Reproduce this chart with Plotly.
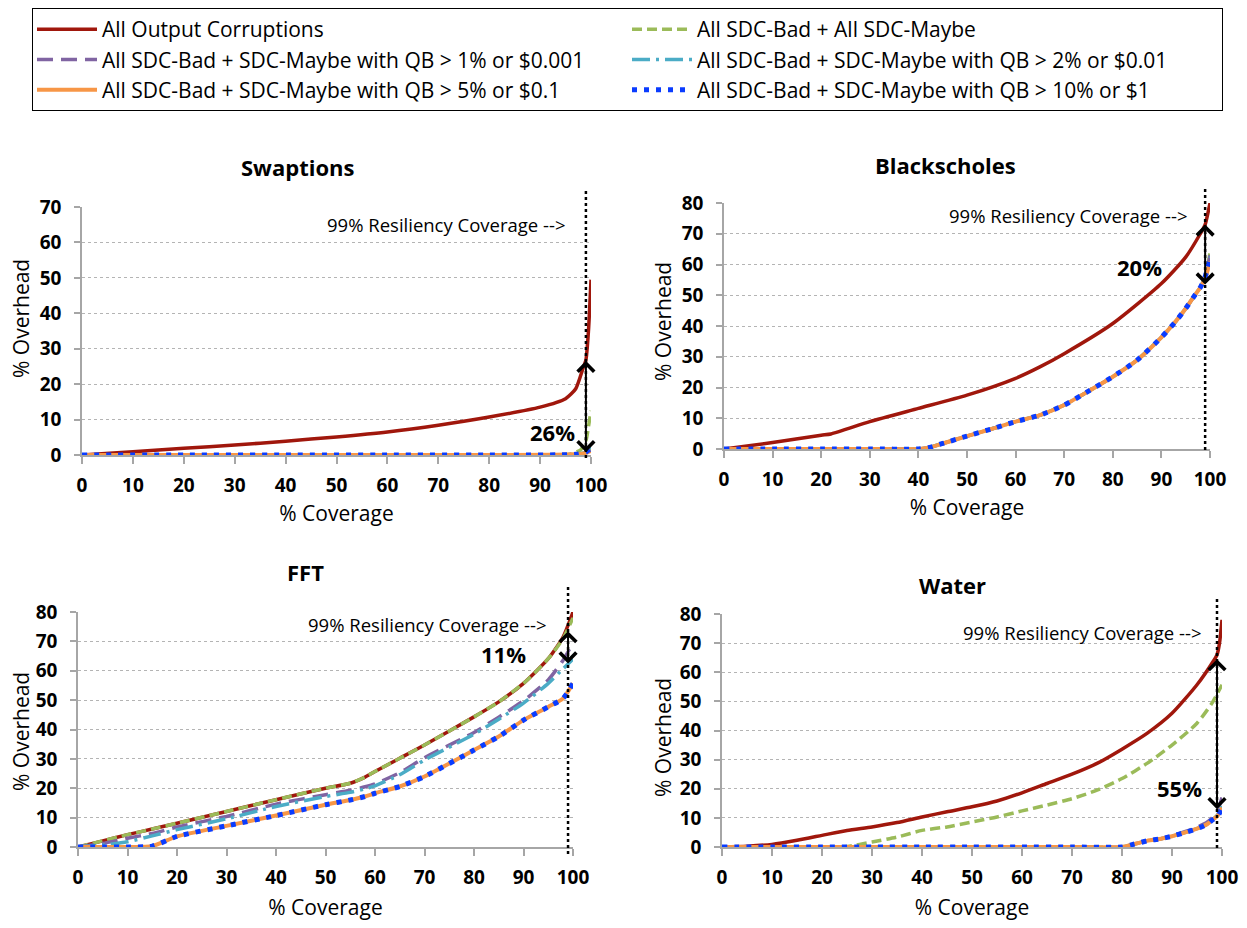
import plotly.graph_objects as go

# ---------------- data ----------------
SERIES_NAMES = [
    "All Output Corruptions",
    "All SDC-Bad + All SDC-Maybe",
    "All SDC-Bad + SDC-Maybe with QB > 1% or $0.001",
    "All SDC-Bad + SDC-Maybe with QB > 2% or $0.01",
    "All SDC-Bad + SDC-Maybe with QB > 5% or $0.1",
    "All SDC-Bad + SDC-Maybe with QB > 10% or $1",
]
CHART_TITLES = ["Swaptions", "Blackscholes", "FFT", "Water"]
X_TITLE = "% Coverage"
Y_TITLE = "% Overhead"
X_TICKS = [0, 10, 20, 30, 40, 50, 60, 70, 80, 90, 100]
COVERAGE_TARGET = 99
GAP_LABELS = ["26%", "20%", "11%", "55%"]
# arrow ends (upper, lower) at 99% coverage
GAP_TOP = [27, 73.5, 74, 65]
GAP_BOTTOM = [0.8, 53.5, 62.5, 13]
Y_MAX = [70, 80, 80, 80]

# Swaptions
SW_X_RED = [0, 10, 20, 30, 40, 50, 60, 70, 80, 90, 95, 97, 98.5, 99, 99.5, 100]
SW_Y_RED = [0, 0.9, 1.9, 2.8, 3.9, 5.1, 6.5, 8.4, 10.7, 13.5, 15.9, 18.7, 24.8, 26.8, 35, 49.5]
SW_X_GREEN = [0, 20, 40, 60, 80, 96, 98, 99, 99.5, 100]
SW_Y_GREEN = [0, 0, 0, 0, 0, 0.3, 1.5, 4, 8, 12.5]
SW_X_LOW = [0, 20, 40, 60, 80, 97, 99, 100]
SW_Y_QB1 = [0, 0, 0, 0, 0, 0.2, 0.8, 2.5]
SW_Y_QB2 = [0, 0, 0, 0, 0, 0.2, 0.8, 2.2]
SW_Y_QB5 = [0, 0, 0, 0, 0, 0.2, 0.6, 1.2]
SW_Y_QB10 = [0, 0, 0, 0, 0, 0.2, 0.8, 2.0]

# Blackscholes
BS_X_RED = [0, 10, 20, 22, 30, 40, 50, 60, 65, 70, 80, 90, 95, 98, 99, 100]
BS_Y_RED = [0, 2.1, 4.5, 4.9, 8.9, 13.2, 17.5, 23, 26.7, 31, 40.8, 53.8, 62.4, 70, 73, 80]
BS_X_LOW = [0, 10, 20, 30, 40, 42, 45, 50, 55, 60, 65, 70, 75, 80, 85, 90, 93, 95, 97, 98, 99, 99.5, 100]
BS_Y_GREEN = [0, 0, 0, 0, 0, 0.4, 1.8, 4.2, 6.5, 8.9, 11, 14.3, 18.8, 23.5, 28.9, 36.3, 41.6, 45.7, 50.3, 52.5, 56, 59, 64]
BS_Y_QB1 = [0, 0, 0, 0, 0, 0.4, 1.8, 4.2, 6.5, 8.9, 11, 14.3, 18.8, 23.5, 28.9, 36.3, 41.6, 45.7, 50.3, 52.5, 56, 58.7, 63]
BS_Y_QB2 = [0, 0, 0, 0, 0, 0.4, 1.8, 4.2, 6.5, 8.9, 11, 14.3, 18.8, 23.5, 28.9, 36.3, 41.6, 45.7, 50.3, 52.5, 56, 58.7, 62.5]
BS_Y_QB5 = [0, 0, 0, 0, 0, 0.4, 1.8, 4.2, 6.5, 8.9, 11, 14.3, 18.8, 23.5, 28.9, 36.3, 41.6, 45.7, 50.3, 52.5, 55.5, 58, 61]
BS_Y_QB10 = [0, 0, 0, 0, 0, 0.4, 1.8, 4.2, 6.5, 8.9, 11, 14.3, 18.8, 23.5, 28.9, 36.3, 41.6, 45.7, 50.3, 52.5, 56, 58.7, 62]

# FFT
FF_X = [0, 5, 10, 15, 20, 30, 40, 50, 55, 58, 60, 65, 70, 80, 85, 90, 95, 98, 100]
FF_Y_RED = [0, 2.1, 4.2, 6.1, 8.1, 12.1, 16.1, 20, 21.7, 23.8, 25.7, 30.2, 34.7, 44.3, 49.4, 55.7, 64.1, 71.5, 80]
FF_Y_GREEN = [0, 2.1, 4.2, 6.1, 8.1, 12.1, 16.1, 20, 21.7, 23.8, 25.7, 30.2, 34.7, 44.3, 49.4, 55.7, 64.1, 71, 78]
FF_Y_QB1 = [0, 1.2, 3.0, 4.6, 6.8, 10.4, 14.6, 17.8, 19.3, 20.5, 21.5, 25.3, 30.4, 39.0, 44.2, 49.8, 56.9, 63.6, 69.5]
FF_Y_QB2 = [0, 0.6, 1.8, 3.8, 5.9, 9.6, 13.8, 17.2, 18.6, 19.8, 20.8, 24.6, 29.6, 38.4, 43.5, 49.0, 55.7, 60.7, 64.0]
FF_Y_QB5 = [0, 0, 0, 0.3, 3.6, 7.2, 10.7, 14.4, 16, 17.2, 18.3, 20.6, 24, 33, 37.6, 43.2, 47.7, 50.6, 55.7]
FF_Y_QB10 = [0, 0, 0, 0.3, 3.6, 7.2, 10.7, 14.4, 16, 17.2, 18.3, 20.6, 24, 33, 37.6, 43.2, 47.7, 50.6, 55.7]

# Water
WA_X_RED = [0, 5, 10, 15, 20, 25, 30, 35, 40, 45, 50, 55, 60, 65, 70, 75, 80, 85, 90, 95, 98, 99, 99.5, 100]
WA_Y_RED = [0, 0.3, 0.9, 2.3, 4.0, 5.7, 6.9, 8.4, 10.3, 12.1, 13.8, 15.8, 18.6, 21.8, 25, 28.7, 33.6, 39, 45.9, 55.7, 63.1, 66, 70, 78]
WA_X_GREEN = [0, 10, 20, 25, 30, 35, 40, 45, 50, 55, 60, 65, 70, 75, 80, 85, 90, 95, 98, 100]
WA_Y_GREEN = [0, 0, 0, 0.2, 1.7, 3.4, 5.7, 6.9, 8.6, 10.3, 12.4, 14.4, 16.6, 19.5, 23.5, 28.7, 35, 42.5, 49.4, 55.7]
WA_X_LOW = [0, 10, 20, 30, 40, 50, 60, 70, 80, 82, 85, 88, 90, 93, 95, 97, 98, 99, 100]
WA_Y_QB1 = [0, 0, 0, 0, 0, 0, 0, 0, 0, 0.8, 2.1, 2.9, 3.9, 5.5, 6.8, 8.5, 10, 12, 17]
WA_Y_QB2 = [0, 0, 0, 0, 0, 0, 0, 0, 0, 0.8, 2.1, 2.9, 3.7, 5.2, 6.3, 7.8, 9.2, 10.8, 14]
WA_Y_QB5 = [0, 0, 0, 0, 0, 0, 0, 0, 0, 0.8, 2.1, 2.9, 3.7, 5.2, 6.3, 7.8, 9.2, 10.5, 13.5]
WA_Y_QB10 = [0, 0, 0, 0, 0, 0, 0, 0, 0, 0.8, 2.1, 2.9, 3.7, 5.2, 6.3, 7.8, 9.2, 10.3, 13.2]

CHART_DATA = [
    [(SW_X_RED, SW_Y_RED), (SW_X_GREEN, SW_Y_GREEN), (SW_X_LOW, SW_Y_QB1),
     (SW_X_LOW, SW_Y_QB2), (SW_X_LOW, SW_Y_QB5), (SW_X_LOW, SW_Y_QB10)],
    [(BS_X_RED, BS_Y_RED), (BS_X_LOW, BS_Y_GREEN), (BS_X_LOW, BS_Y_QB1),
     (BS_X_LOW, BS_Y_QB2), (BS_X_LOW, BS_Y_QB5), (BS_X_LOW, BS_Y_QB10)],
    [(FF_X, FF_Y_RED), (FF_X, FF_Y_GREEN), (FF_X, FF_Y_QB1),
     (FF_X, FF_Y_QB2), (FF_X, FF_Y_QB5), (FF_X, FF_Y_QB10)],
    [(WA_X_RED, WA_Y_RED), (WA_X_GREEN, WA_Y_GREEN), (WA_X_LOW, WA_Y_QB1),
     (WA_X_LOW, WA_Y_QB2), (WA_X_LOW, WA_Y_QB5), (WA_X_LOW, WA_Y_QB10)],
]

# ---------------- styles ----------------
FONT = "Open Sans"
LINE_STYLES = [
    dict(color="#A0170C", width=3.5, dash="solid"),
    dict(color="#9BBB59", width=3.5, dash="10px,5px"),
    dict(color="#8064A2", width=3.5, dash="16px,8px"),
    dict(color="#4BACC6", width=3.5, dash="18px,6px,3px,6px"),
    dict(color="#F79646", width=4, dash="solid"),
    dict(color="#0A3CFF", width=5, dash="5px,7px"),
]
GRID = "#B4B4B4"
AXIS = "#A6A6A6"

# The page body has an 8px margin; the figure fills the rest of the window.
OFF = 8
W, H = 1247 - OFF, 928 - OFF


def px(xp):
    return (xp - OFF) / W


def py(yp):
    return 1 - (yp - OFF) / H


# pixel geometry (in window pixels) of each subplot: x0, x1, ytop, ybottom
BOXES = [
    (82, 591, 207, 455),
    (724, 1210, 203, 449),
    (78, 573, 612, 847),
    (722, 1222, 614, 847),
]
TITLE_POS = [(298, 167), (945, 165), (305, 572), (952, 585)]
YTITLE_POS = [(21, 319), (663, 322), (21, 732), (663, 738)]
RESIL_POS = [(95.5, 65), (95.8, 75.8), (95.2, 75.9), (96.4, 73.8)]
GAP_POS = [(92.4, 6.4), (85.4, 59.2), (86.0, 65.7), (91.4, 20.3)]
LINE_EXT = [(-0.012, 1.07), (-0.004, 1.06), (-0.03, 1.11), (-0.004, 1.075)]
XTITLE_STANDOFF = [10, 10, 12, 12]

fig = go.Figure()

for ci, series in enumerate(CHART_DATA):
    xa = "x" if ci == 0 else f"x{ci+1}"
    ya = "y" if ci == 0 else f"y{ci+1}"
    for si, (xs, ys) in enumerate(series):
        fig.add_trace(go.Scatter(
            x=xs, y=ys, mode="lines", name=SERIES_NAMES[si],
            legendgroup=SERIES_NAMES[si], showlegend=(ci == 0),
            line=dict(shape="spline", smoothing=0.6, **LINE_STYLES[si]),
            xaxis=xa, yaxis=ya, hoverinfo="x+y",
        ))

layout = dict(
    template="none",
    width=W, height=H,
    margin=dict(l=0, r=0, t=0, b=0, pad=0),
    paper_bgcolor="white", plot_bgcolor="white",
    font=dict(family=FONT, color="black"),
    legend=dict(
        orientation="h", x=px(32), y=1, xanchor="left", yanchor="top",
        bordercolor="black", borderwidth=1, bgcolor="white",
        entrywidth=520, entrywidthmode="pixels", itemwidth=60,
        font=dict(family=FONT, size=21, color="black"), tracegroupgap=0,
    ),
    annotations=[], shapes=[],
)

for ci in range(4):
    x0, x1, yt, yb = BOXES[ci]
    sfx = "" if ci == 0 else str(ci + 1)
    xname, yname = "xaxis" + sfx, "yaxis" + sfx
    xref, yref = "x" + sfx, "y" + sfx
    layout[xname] = dict(
        domain=[px(x0), px(x1)], anchor=yref, range=[0, 100], automargin=False,
        tickvals=X_TICKS, ticks="outside", ticklen=7, tickcolor=AXIS, tickwidth=1.5,
        showline=True, linecolor=AXIS, linewidth=1.5, showgrid=False, zeroline=False,
        tickfont=dict(family=FONT, size=19, color="black", weight="bold"),
        ticklabelstandoff=5,
        title=dict(text=X_TITLE, font=dict(family=FONT, size=21, color="black"),
                   standoff=XTITLE_STANDOFF[ci]),
        fixedrange=True,
    )
    layout[yname] = dict(
        domain=[py(yb), py(yt)], anchor=xref, range=[0, Y_MAX[ci]], dtick=10,
        automargin=False,
        ticks="outside", ticklen=6, tickcolor=AXIS, tickwidth=1.5,
        showline=True, linecolor=AXIS, linewidth=1.5,
        showgrid=True, gridcolor=GRID, griddash="dot", gridwidth=1, zeroline=False,
        tickfont=dict(family=FONT, size=19, color="black", weight="bold"),
        ticklabelstandoff=9,
        fixedrange=True,
    )
    # y axis title (placed as in the reference)
    yx, yy = YTITLE_POS[ci]
    layout["annotations"].append(dict(
        text=Y_TITLE, xref="paper", yref="paper", x=px(yx), y=py(yy),
        xanchor="center", yanchor="middle", textangle=-90, showarrow=False,
        font=dict(family=FONT, size=21, color="black"),
    ))
    # chart title
    tx, ty = TITLE_POS[ci]
    layout["annotations"].append(dict(
        text=f"<b>{CHART_TITLES[ci]}</b>", xref="paper", yref="paper",
        x=px(tx), y=py(ty), xanchor="center", yanchor="middle", showarrow=False,
        font=dict(family=FONT, size=22, color="black"),
    ))
    # 99% resiliency text
    rx, ry = RESIL_POS[ci]
    layout["annotations"].append(dict(
        text="99% Resiliency Coverage -->", xref=xref, yref=yref, x=rx, y=ry,
        xanchor="right", yanchor="middle", showarrow=False,
        font=dict(family=FONT, size=18.5, color="black"),
    ))
    # gap label
    gx, gy = GAP_POS[ci]
    layout["annotations"].append(dict(
        text=f"<b>{GAP_LABELS[ci]}</b>", xref=xref, yref=yref, x=gx, y=gy,
        xanchor="center", yanchor="middle", showarrow=False,
        font=dict(family=FONT, size=22, color="black"),
    ))
    # double headed arrow
    layout["annotations"].append(dict(
        text="", xref=xref, yref=yref, axref=xref, ayref=yref,
        x=COVERAGE_TARGET, y=GAP_BOTTOM[ci], ax=COVERAGE_TARGET, ay=GAP_TOP[ci],
        showarrow=True, arrowside="end+start", arrowhead=4, startarrowhead=4,
        arrowsize=1.6, startarrowsize=1.6, arrowwidth=2, arrowcolor="black",
        standoff=0, startstandoff=0,
    ))
    # dotted 99% line
    e0, e1 = LINE_EXT[ci]
    layout["shapes"].append(dict(
        type="line", xref=xref + " domain", yref=yref + " domain",
        x0=COVERAGE_TARGET / 100, x1=COVERAGE_TARGET / 100, y0=e0, y1=e1,
        line=dict(color="black", width=2.5, dash="dot"), layer="above",
    ))

fig.update_layout(**layout)
fig.write_html("out.html", include_plotlyjs=True)
